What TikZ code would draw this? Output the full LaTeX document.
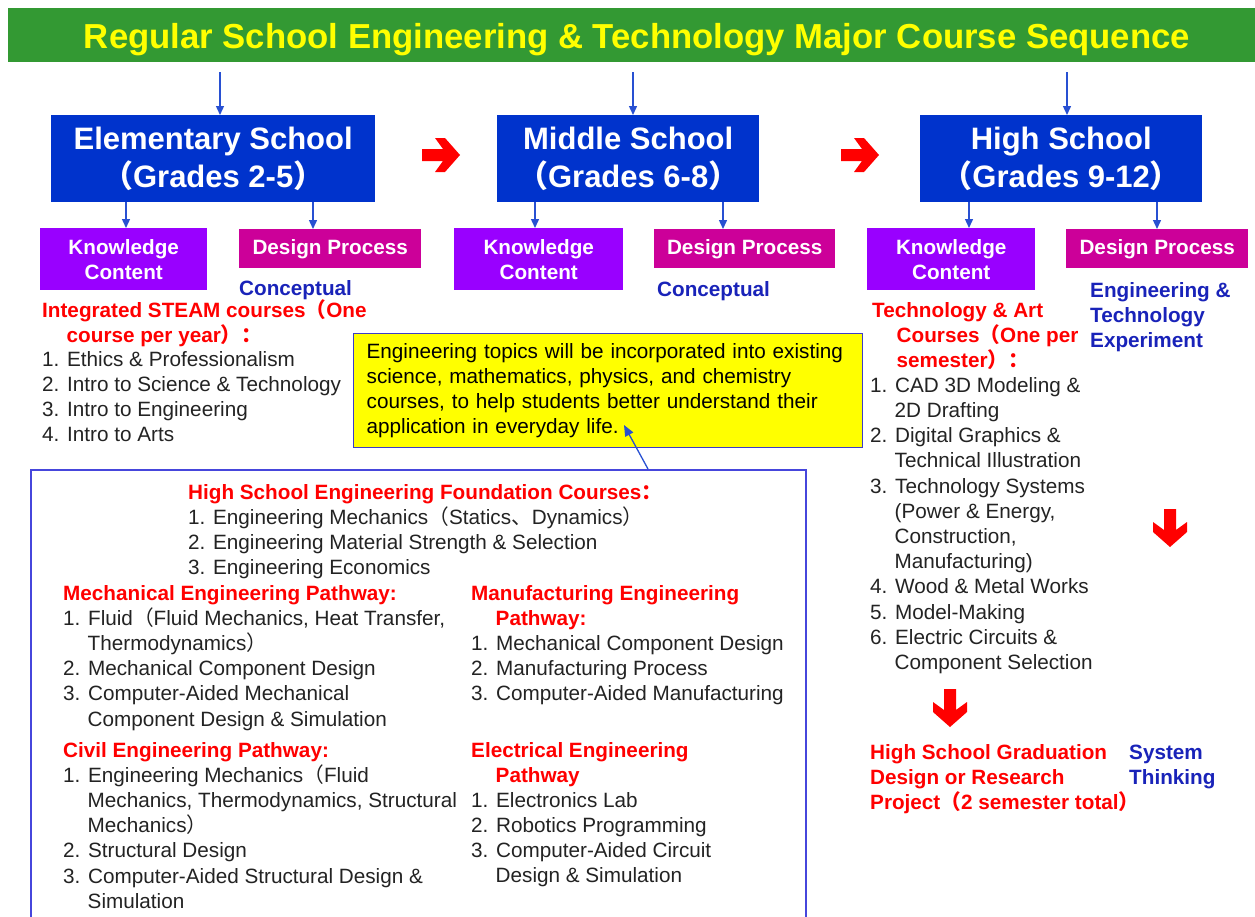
\documentclass[tikz,border=0pt]{standalone}
\usepackage{fontspec}
\setmainfont{Liberation Sans}
\newfontfamily\cjkf{Noto Sans CJK SC}
\usetikzlibrary{arrows.meta}
\newcommand\fwl{{\cjkf （}}
\newcommand\fwr{{\cjkf ）}}
\newcommand\fwc{{\cjkf ：}}
\newcommand\fwd{{\cjkf 、}}
\newcommand\ind{\hspace*{24.5pt}}
\newcommand\st{\rule{0pt}{19pt}}
\definecolor{bannergreen}{RGB}{51,153,51}
\definecolor{titleyellow}{RGB}{255,255,0}
\definecolor{schoolblue}{RGB}{0,51,204}
\definecolor{kpurple}{RGB}{153,0,255}
\definecolor{dmagenta}{RGB}{204,0,153}
\definecolor{arrblue}{RGB}{40,80,210}
\definecolor{txtblue}{RGB}{25,35,185}
\definecolor{hdrred}{RGB}{255,0,0}
\definecolor{arrred}{RGB}{255,0,0}
\definecolor{bodygray}{RGB}{35,35,35}
\definecolor{noteborder}{RGB}{60,60,200}
\definecolor{boxborder}{RGB}{70,70,220}
\tikzset{
  bodytxt/.style={anchor=north west, inner sep=0pt, align=left, text=bodygray,
    font=\fontsize{20.7}{25.2}\selectfont},
  redhdr/.style={bodytxt, text=hdrred, font=\fontsize{20.7}{25.2}\selectfont\bfseries},
  bluetxt/.style={bodytxt, text=txtblue, font=\fontsize{20.7}{25.2}\selectfont\bfseries},
  schoolbox/.style={anchor=north west, fill=schoolblue, inner sep=0pt, text=white,
    align=center, minimum height=87, font=\fontsize{31}{38}\selectfont\bfseries},
  kbox/.style={anchor=north west, fill=kpurple, inner sep=0pt, text=white,
    align=center, minimum height=62, font=\fontsize{20.7}{25}\selectfont\bfseries},
  dbox/.style={anchor=north west, fill=dmagenta, inner sep=0pt, text=white,
    align=center, minimum height=39, font=\fontsize{20.7}{25}\selectfont\bfseries},
  barr/.style={draw=arrblue, line width=1.4pt, -{Triangle[length=9pt,width=8pt]}},
  redright/.pic={\fill[arrred] (-19,-6)--(2,-6)--(-6,-17)--(4,-17)--(19,0)--(4,17)--(-6,17)--(2,6)--(-19,6)--cycle;},
  reddown/.pic={\fill[arrred] (-6,-19)--(-6,2)--(-17,-6)--(-17,4)--(0,19)--(17,4)--(17,-6)--(6,2)--(6,-19)--cycle;}
}
\begin{document}
\begin{tikzpicture}[x=1pt,y=-1pt]
\useasboundingbox (0,0) rectangle (1255,916);
\fill[white] (0,0) rectangle (1255,916);
% banner
\fill[bannergreen] (8,8) rectangle (1255,62);
\node[text=titleyellow, inner sep=0pt, font=\fontsize{34.7}{40}\selectfont\bfseries] (title) at (637,40)
  {Regular School Engineering \& Technology Major Course Sequence};
% school boxes
\node[schoolbox, minimum width=324] (elem) at (51,115) {Elementary School\\\fwl Grades 2-5\fwr};
\node[schoolbox, minimum width=262] (mid) at (497,115) {Middle School\\\fwl Grades 6-8\fwr};
\node[schoolbox, minimum width=282] (high) at (920,115) {High School\\\fwl Grades 9-12\fwr};
% top arrows
\coordinate (t1) at (220,72);
\coordinate (t2) at (633,72);
\coordinate (t3) at (1067,72);
\draw[barr] (t1) -- (elem.north -| t1);
\draw[barr] (t2) -- (mid.north -| t2);
\draw[barr] (t3) -- (high.north -| t3);
% red right arrows
\pic at (441,155) {redright};
\pic at (860,155) {redright};
% knowledge and design boxes
\node[kbox, minimum width=167] (kc1) at (40,228) {Knowledge\\Content};
\node[kbox, minimum width=169] (kc2) at (454,228) {Knowledge\\Content};
\node[kbox, minimum width=168] (kc3) at (867,228) {Knowledge\\Content};
\node[dbox, minimum width=182] (dp1) at (239,229) {Design Process};
\node[dbox, minimum width=181] (dp2) at (654,229) {Design Process};
\node[dbox, minimum width=182] (dp3) at (1066,229) {Design Process};
\draw[barr] (elem.south -| 126,0) -- (kc1.north -| 126,0);
\draw[barr] (elem.south -| 313,0) -- (dp1.north -| 313,0);
\draw[barr] (mid.south -| 535,0) -- (kc2.north -| 535,0);
\draw[barr] (mid.south -| 723,0) -- (dp2.north -| 723,0);
\draw[barr] (high.south -| 969,0) -- (kc3.north -| 969,0);
\draw[barr] (high.south -| 1157,0) -- (dp3.north -| 1157,0);
% elementary column
\node[bluetxt] (con1) at (239,276) {\st Conceptual};
\node[redhdr] (steamh) at (42,298) {\st Integrated STEAM courses\fwl One\\\ind course per year\fwr\fwc};
\node[bodytxt] (steaml) at (42,347) {\st 1. Ethics \& Professionalism\\2. Intro to Science \& Technology\\3. Intro to Engineering\\4. Intro to Arts};
% middle column
\node[bluetxt] (con2) at (657,277) {\st Conceptual};
% high school column
\node[redhdr] (techh) at (872,298) {\st Technology \& Art\\\ind Courses\fwl One per\\\ind semester\fwr\fwc};
\node[bodytxt] (techl) at (870,373) {\st 1. CAD 3D Modeling \&\\\ind 2D Drafting\\2. Digital Graphics \&\\\ind Technical Illustration\\3. Technology Systems\\\ind (Power \& Energy,\\\ind Construction,\\\ind Manufacturing)\\4. Wood \& Metal Works\\5. Model-Making\\6. Electric Circuits \&\\\ind Component Selection};
\node[bluetxt] (engexp) at (1090,278) {\st Engineering \&\\Technology\\Experiment};
\pic at (1170,528) {reddown};
\pic at (950,708) {reddown};
\node[redhdr] (grad) at (870,740) {\st High School Graduation\\Design or Research\\Project\fwl 2 semester total\fwr};
\node[bluetxt] (systh) at (1129,740) {\st System\\Thinking};
% bottom box
\node[draw=boxborder, line width=1.5pt, fill=white, anchor=north west, inner sep=0pt,
  minimum width=775, minimum height=480] (found) at (30,469) {};
% yellow note
\node[draw=noteborder, line width=1.3pt, fill=titleyellow, anchor=north west, inner xsep=13pt, inner ysep=0pt,
  text width=483, minimum height=114, align=left, text=black, font=\fontsize{20.7}{24.8}\selectfont] (note) at (353,333)
  {Engineering topics will be incorporated into existing\\science, mathematics, physics, and chemistry\\courses, to help students better understand their\\application in everyday life.};
\coordinate (notetip) at (624,425);
\draw[draw=arrblue, line width=1.3pt, -{Triangle[length=11pt,width=9pt]}] (found.north -| 648,0) -- (notetip);
% bottom box contents
\node[redhdr] (foundh) at (188,480) {\st High School Engineering Foundation Courses\fwc};
\node[bodytxt] (foundl) at (188,505) {\st 1. Engineering Mechanics\fwl Statics\fwd Dynamics\fwr\\2. Engineering Material Strength \& Selection\\3. Engineering Economics};
\node[redhdr] (mechh) at (63,581) {\st Mechanical Engineering Pathway:};
\node[bodytxt] (mechl) at (63,606) {\st 1. Fluid\fwl Fluid Mechanics, Heat Transfer,\\\ind Thermodynamics\fwr\\2. Mechanical Component Design\\3. Computer-Aided Mechanical\\\ind Component Design \& Simulation};
\node[redhdr] (civh) at (63,738) {\st Civil Engineering Pathway:};
\node[bodytxt] (civl) at (63,763) {\st 1. Engineering Mechanics\fwl Fluid\\\ind Mechanics, Thermodynamics, Structural\\\ind Mechanics\fwr\\2. Structural Design\\3. Computer-Aided Structural Design \&\\\ind Simulation};
\node[redhdr] (manh) at (471,581) {\st Manufacturing Engineering\\\ind Pathway:};
\node[bodytxt] (manl) at (471,631) {\st 1. Mechanical Component Design\\2. Manufacturing Process\\3. Computer-Aided Manufacturing};
\node[redhdr] (elech) at (471,738) {\st Electrical Engineering\\\ind Pathway};
\node[bodytxt] (elecl) at (471,788) {\st 1. Electronics Lab\\2. Robotics Programming\\3. Computer-Aided Circuit\\\ind Design \& Simulation};
\end{tikzpicture}
\end{document}
